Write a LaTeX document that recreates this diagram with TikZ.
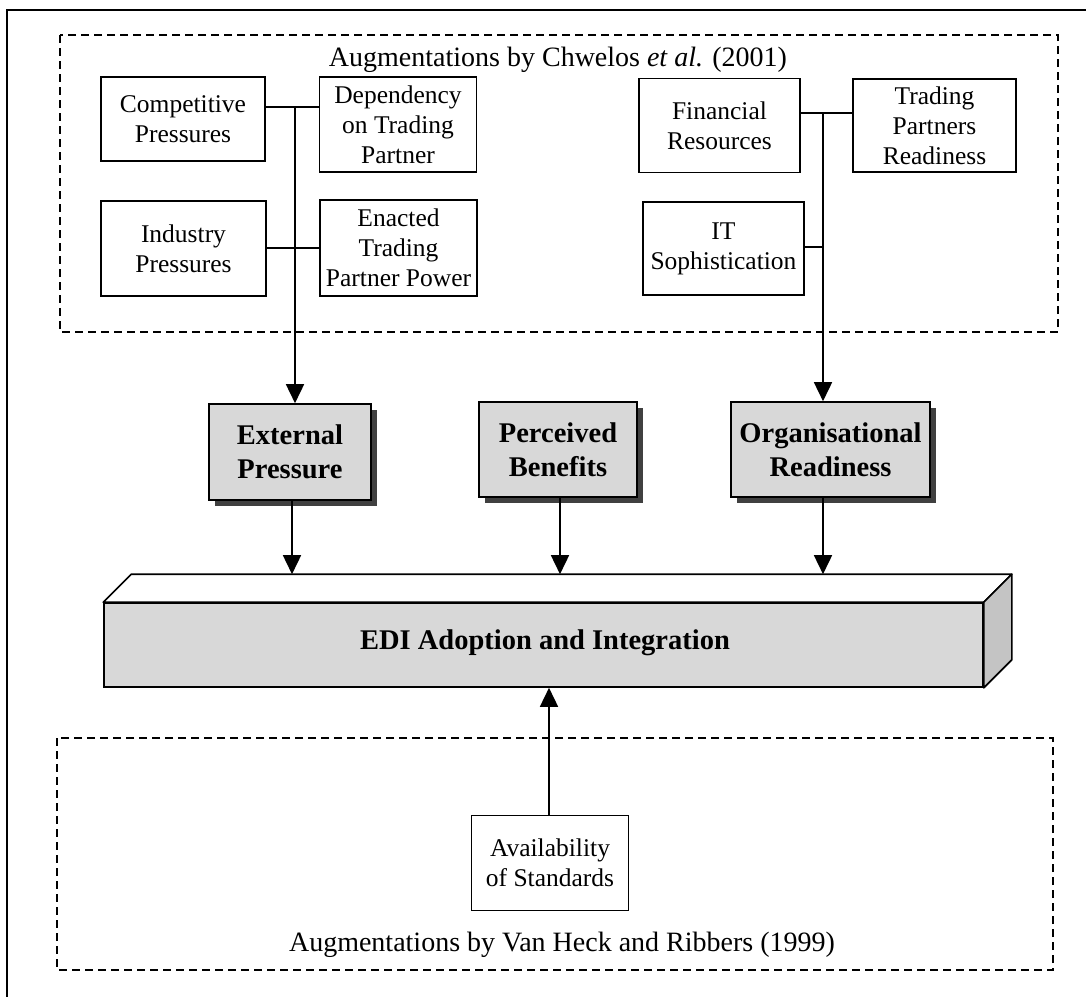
\documentclass[tikz,border=0pt]{standalone}
\usepackage{fontspec}
\setmainfont{Liberation Serif}
\usetikzlibrary{arrows.meta,shadows}
\definecolor{boxgray}{HTML}{D8D8D8}
\definecolor{sidegray}{HTML}{C4C4C4}
\begin{document}
\begin{tikzpicture}[x=1pt,y=-1pt,
  every node/.style={font=\fontsize{25.5}{30}\selectfont},
  plainbox/.style={draw,line width=1.6pt,fill=white,align=center,inner sep=0pt},
  factorbox/.style={draw,line width=1.6pt,fill=boxgray,align=center,inner sep=0pt,
     font=\fontsize{28.5}{34}\selectfont\bfseries,
     drop shadow={shadow xshift=6pt,shadow yshift=-6pt,fill=black!75,opacity=1}},
  link/.style={line width=1.6pt},
  arr/.style={line width=1.6pt,-{Triangle[width=18pt,length=19pt]},color=black},
  groupbox/.style={line width=1.8pt,dash pattern=on 8pt off 5pt},
  titletext/.style={inner sep=0pt,font=\fontsize{28}{32}\selectfont}
]
\useasboundingbox (0,0) rectangle (1086,996);
\fill[white] (0,0) rectangle (1086,996);
% outer frame (clipped at right and bottom)
\draw[line width=1.6pt] (7,1010) -- (7,10) -- (1095,10);

% group boxes
\draw[groupbox] (60,35) rectangle (1058,332);
\draw[groupbox] (57,738) rectangle (1053,970);

\node[titletext] (toptitle) at (558,60) {Augmentations by Chwelos \textit{et al.} (2001)};
\node[titletext] (bottitle) at (562,945) {Augmentations by Van Heck and Ribbers (1999)};

% top-left factors
\node[plainbox,minimum width=164pt,minimum height=84pt] (comp) at (183,119) {Competitive\\Pressures};
\node[plainbox,minimum width=157pt,minimum height=95pt] (dep) at (398,124.5) {Dependency\\on Trading\\Partner};
\node[plainbox,minimum width=165pt,minimum height=95pt] (ind) at (183.5,248.5) {Industry\\Pressures};
\node[plainbox,minimum width=157pt,minimum height=96pt] (enact) at (398.5,248) {Enacted\\Trading\\Partner Power};

% top-right factors
\node[plainbox,minimum width=161pt,minimum height=94pt] (fin) at (719.5,125.5) {Financial\\Resources};
\node[plainbox,minimum width=163pt,minimum height=93pt] (tpr) at (934.5,125.5) {Trading\\Partners\\Readiness};
\node[plainbox,minimum width=161pt,minimum height=93pt] (its) at (723.5,248.5) {IT\\Sophistication};

% main factors
\node[factorbox,minimum width=162pt,minimum height=96pt] (ext) at (290,452) {External\\Pressure};
\node[factorbox,minimum width=158pt,minimum height=95pt] (ben) at (558,449.5) {Perceived\\Benefits};
\node[factorbox,minimum width=199pt,minimum height=95pt] (org) at (830.5,449.5) {Organisational\\Readiness};

% 3D bar
\node[draw,line width=1.6pt,fill=boxgray,minimum width=879pt,minimum height=84pt,inner sep=0pt] (bar) at (543.5,645) {};
\fill[white,draw=black,line width=1.6pt,line join=round]
  (bar.north west) -- ([shift={(28,-28)}]bar.north west) -- ([shift={(28,-28)}]bar.north east) -- (bar.north east) -- cycle;
\fill[sidegray,draw=black,line width=1.6pt,line join=round]
  (bar.north east) -- ([shift={(28,-28)}]bar.north east) -- ([shift={(28,-28)}]bar.south east) -- (bar.south east) -- cycle;
\node[font=\fontsize{28.5}{34}\selectfont\bfseries,inner sep=0pt] (bartext) at (545,643) {EDI Adoption and Integration};
\coordinate (bartop) at ([shift={(28,-28)}]bar.north west);

% bottom factor
\node[plainbox,minimum width=157pt,minimum height=95pt] (avail) at (550,863) {Availability\\of Standards};

% connectors top-left
\coordinate (j1) at (295,107);
\coordinate (j2) at (295,248);
\draw[link] (comp.east |- j1) -- (dep.west |- j1);
\draw[link] (ind.east |- j2) -- (enact.west |- j2);
\draw[arr] (j1) -- (ext.north -| j1);

% connectors top-right
\coordinate (j3) at (823,113);
\coordinate (j4) at (823,247);
\draw[link] (fin.east |- j3) -- (tpr.west |- j3);
\draw[link] (its.east |- j4) -- (j4);
\draw[arr] (j3) -- (org.north -| j3);

% to the bar
\draw[arr] (ext.south -| 292,0) -- (292,0 |- bartop);
\draw[arr] (ben.south -| 560,0) -- (560,0 |- bartop);
\draw[arr] (org.south -| j3) -- (j3 |- bartop);
\draw[arr] (avail.north -| 549,0) -- (549,0 |- bar.south);
\end{tikzpicture}
\end{document}
